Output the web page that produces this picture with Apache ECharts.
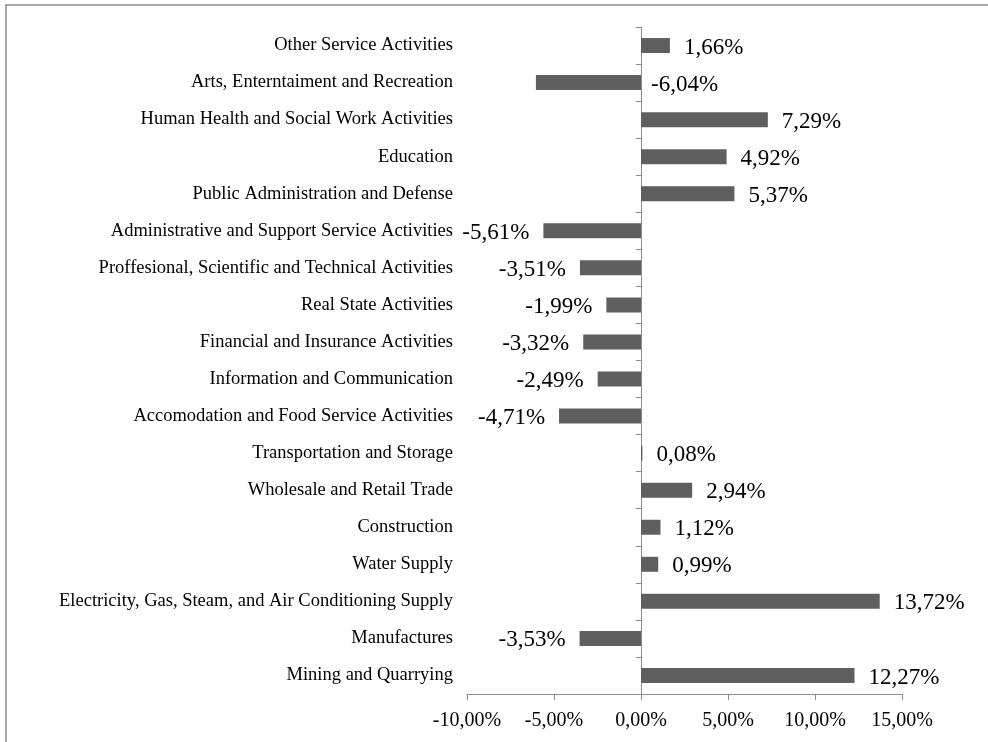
<!DOCTYPE html>
<html>
<head>
<meta charset="utf-8">
<script src="https://cdn.jsdelivr.net/npm/echarts@6/dist/echarts.min.js"></script>
<style>
html,body{margin:0;padding:0;background:#fff;}
#chart{width:988px;height:742px;}
</style>
</head>
<body>
<div id="chart"></div>
<script>
// Categories listed from bottom to top
const categories = [
  "Mining and Quarrying",
  "Manufactures",
  "Electricity, Gas, Steam, and Air Conditioning Supply",
  "Water Supply",
  "Construction",
  "Wholesale and Retail Trade",
  "Transportation and Storage",
  "Accomodation and Food Service Activities",
  "Information and Communication",
  "Financial and Insurance Activities",
  "Real State Activities",
  "Proffesional, Scientific and Technical Activities",
  "Administrative and Support Service Activities",
  "Public Administration and Defense",
  "Education",
  "Human Health and Social Work Activities",
  "Arts, Enterntaiment and Recreation",
  "Other Service Activities"
];
const values = [12.27, -3.53, 13.72, 0.99, 1.12, 2.94, 0.08, -4.71, -2.49, -3.32, -1.99, -3.51, -5.61, 5.37, 4.92, 7.29, -6.04, 1.66];
const xTicks = [-10, -5, 0, 5, 10, 15];

const fmt = v => v.toFixed(2).replace('.', ',') + '%';
const serif = '"Liberation Serif","Times New Roman",serif';
const rightLabelled = ["Arts, Enterntaiment and Recreation"];

const seriesData = values.map((v, i) => {
  const toRight = v >= 0 || rightLabelled.includes(categories[i]);
  return {
    value: v,
    label: { position: toRight ? 'right' : 'left', distance: toRight && v < 0 ? 10 : 14 }
  };
});

const chart = echarts.init(document.getElementById('chart'));
chart.setOption({
  animation: false,
  graphic: [{
    type: 'rect', shape: { x: 6, y: 5, width: 1200, height: 900 },
    style: { fill: 'none', stroke: '#8a8a8a', lineWidth: 1.5 }, silent: true
  }],
  grid: { left: 467, right: 86, top: 27, bottom: 48, containLabel: false },
  xAxis: {
    type: 'value',
    min: xTicks[0], max: xTicks[xTicks.length - 1], interval: 5,
    axisLine: { show: true, lineStyle: { color: '#8c8c8c', width: 1 } },
    axisTick: { show: true, length: 6, lineStyle: { color: '#8c8c8c' } },
    splitLine: { show: false },
    axisLabel: { formatter: v => fmt(v), fontFamily: serif, fontSize: 20, color: '#000', margin: 17 }
  },
  yAxis: [{
    type: 'category', data: categories,
    axisLine: { show: false, onZero: false },
    axisTick: { show: false },
    axisLabel: { fontFamily: serif, fontSize: 18.5, color: '#000', margin: 14 }
  }, {
    type: 'category', data: categories, position: 'right',
    axisLine: { show: true, onZero: true, lineStyle: { color: '#8c8c8c', width: 1 } },
    axisTick: { show: true, inside: true, length: 5, lineStyle: { color: '#8c8c8c' } },
    axisLabel: { show: false }
  }],
  series: [{
    type: 'bar', data: seriesData, yAxisIndex: 0,
    barWidth: 15,
    itemStyle: { color: '#5f5f5f' },
    label: {
      show: true, formatter: p => fmt(p.value),
      fontFamily: serif, fontSize: 23, color: '#000', offset: [0, 2]
    }
  }]
});
</script>
</body>
</html>
